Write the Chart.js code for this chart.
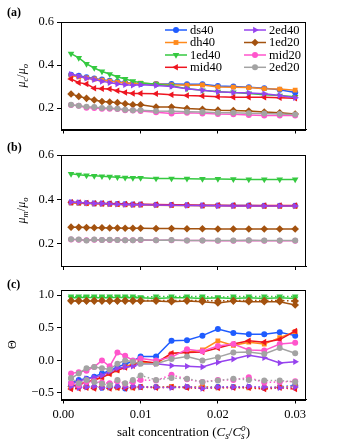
<!DOCTYPE html>
<html>
<head>
<meta charset="utf-8">
<script src="https://cdn.jsdelivr.net/npm/chart.js@4.4.1/dist/chart.umd.min.js"></script>
<style>
  body { margin: 0; background: #fff; }
  canvas { position: absolute; left: 0; }
</style>
</head>
<body>
<canvas id="chartA" width="341" height="140" style="top:0"></canvas>
<canvas id="chartB" width="341" height="137" style="top:140px"></canvas>
<canvas id="chartC" width="341" height="167" style="top:277px"></canvas>
<script>
// salt concentration values (C_s / C_s^o)
const saltConc = [0.001, 0.002, 0.003, 0.004, 0.005, 0.006, 0.007, 0.008, 0.009, 0.010,
                  0.012, 0.014, 0.016, 0.018, 0.020, 0.022, 0.024, 0.026, 0.028, 0.030];
const seriesNames = ["ds40", "dh40", "1ed40", "mid40", "2ed40", "1ed20", "mid20", "2ed20"];
const xTicks = [0, 0.01, 0.02, 0.03];
const yTicksAB = [0.2, 0.4, 0.6];
const yTicksC = [-0.5, 0, 0.5, 1.0];

// (a) mu_c / mu_o
const muC_ds40  = [0.355, 0.350, 0.343, 0.337, 0.332, 0.327, 0.322, 0.318, 0.314, 0.312, 0.312, 0.312, 0.311, 0.311, 0.302, 0.300, 0.297, 0.292, 0.285, 0.272];
const muC_dh40  = [0.350, 0.345, 0.340, 0.335, 0.330, 0.325, 0.320, 0.316, 0.314, 0.315, 0.312, 0.308, 0.306, 0.307, 0.298, 0.297, 0.295, 0.290, 0.288, 0.283];
const muC_1ed40 = [0.453, 0.433, 0.405, 0.386, 0.370, 0.358, 0.345, 0.335, 0.325, 0.317, 0.311, 0.304, 0.290, 0.282, 0.276, 0.272, 0.268, 0.262, 0.258, 0.252];
const muC_mid40 = [0.335, 0.318, 0.312, 0.292, 0.290, 0.288, 0.280, 0.272, 0.268, 0.268, 0.266, 0.262, 0.258, 0.256, 0.252, 0.250, 0.250, 0.250, 0.248, 0.245];
const muC_2ed40 = [0.357, 0.348, 0.338, 0.332, 0.324, 0.318, 0.312, 0.308, 0.306, 0.308, 0.305, 0.300, 0.290, 0.282, 0.276, 0.272, 0.270, 0.266, 0.258, 0.248];
const muC_1ed20 = [0.265, 0.254, 0.245, 0.237, 0.230, 0.228, 0.225, 0.220, 0.215, 0.215, 0.205, 0.205, 0.198, 0.194, 0.190, 0.188, 0.186, 0.181, 0.178, 0.172];
const muC_mid20 = [0.214, 0.210, 0.201, 0.200, 0.196, 0.196, 0.195, 0.190, 0.188, 0.186, 0.180, 0.175, 0.178, 0.175, 0.172, 0.171, 0.168, 0.165, 0.165, 0.165];
const muC_2ed20 = [0.215, 0.210, 0.206, 0.205, 0.200, 0.200, 0.196, 0.192, 0.190, 0.190, 0.186, 0.185, 0.183, 0.181, 0.178, 0.178, 0.176, 0.174, 0.172, 0.170];

// (b) mu_m / mu_o
const muM_ds40  = [0.386, 0.385, 0.383, 0.382, 0.381, 0.380, 0.379, 0.378, 0.377, 0.377, 0.376, 0.375, 0.374, 0.373, 0.373, 0.372, 0.372, 0.371, 0.371, 0.371];
const muM_dh40  = [0.384, 0.383, 0.381, 0.380, 0.379, 0.378, 0.377, 0.376, 0.375, 0.375, 0.374, 0.373, 0.372, 0.371, 0.371, 0.370, 0.370, 0.369, 0.369, 0.369];
const muM_1ed40 = [0.515, 0.511, 0.508, 0.506, 0.504, 0.502, 0.500, 0.498, 0.497, 0.497, 0.494, 0.494, 0.493, 0.492, 0.492, 0.491, 0.490, 0.490, 0.490, 0.490];
const muM_mid40 = [0.387, 0.386, 0.384, 0.383, 0.382, 0.381, 0.380, 0.379, 0.378, 0.378, 0.377, 0.376, 0.375, 0.374, 0.374, 0.373, 0.373, 0.372, 0.372, 0.372];
const muM_2ed40 = [0.387, 0.386, 0.384, 0.382, 0.381, 0.379, 0.378, 0.377, 0.376, 0.376, 0.375, 0.374, 0.373, 0.372, 0.371, 0.370, 0.370, 0.370, 0.370, 0.370];
const muM_1ed20 = [0.275, 0.274, 0.273, 0.272, 0.272, 0.271, 0.271, 0.270, 0.270, 0.270, 0.269, 0.269, 0.268, 0.268, 0.267, 0.267, 0.267, 0.267, 0.267, 0.267];
const muM_mid20 = [0.219, 0.218, 0.216, 0.218, 0.217, 0.217, 0.217, 0.216, 0.216, 0.217, 0.216, 0.216, 0.215, 0.215, 0.214, 0.214, 0.215, 0.214, 0.214, 0.214];
const muM_2ed20 = [0.220, 0.219, 0.215, 0.219, 0.217, 0.218, 0.217, 0.216, 0.216, 0.218, 0.216, 0.217, 0.215, 0.215, 0.215, 0.215, 0.216, 0.215, 0.215, 0.215];

// (c) Theta, solid lines
const theta_ds40  = [-0.35, -0.30, -0.28, -0.25, -0.20, -0.16, -0.10, -0.06, -0.01, 0.06, 0.06, 0.30, 0.31, 0.38, 0.48, 0.42, 0.40, 0.40, 0.43, 0.38];
const theta_dh40  = [-0.40, -0.36, -0.33, -0.30, -0.26, -0.20, -0.15, -0.10, -0.05, -0.03, -0.05, 0.10, 0.13, 0.16, 0.30, 0.23, 0.28, 0.25, 0.35, 0.44];
const theta_1ed40 = [0.96, 0.96, 0.97, 0.96, 0.96, 0.96, 0.97, 0.96, 0.96, 0.96, 0.95, 0.96, 0.96, 0.95, 0.96, 0.95, 0.96, 0.95, 0.96, 0.95];
const theta_mid40 = [-0.40, -0.37, -0.34, -0.30, -0.26, -0.21, -0.15, -0.11, -0.08, -0.01, -0.04, 0.11, 0.12, 0.13, 0.19, 0.25, 0.30, 0.28, 0.32, 0.45];
const theta_2ed40 = [-0.36, -0.32, -0.28, -0.26, -0.23, -0.17, -0.12, -0.10, -0.09, -0.05, -0.05, -0.08, -0.09, -0.10, -0.03, 0.02, 0.08, 0.04, -0.04, -0.02];
const theta_1ed20 = [0.91, 0.91, 0.91, 0.91, 0.91, 0.91, 0.91, 0.91, 0.91, 0.91, 0.91, 0.90, 0.91, 0.90, 0.88, 0.91, 0.90, 0.90, 0.90, 0.85];
const theta_mid20 = [-0.20, -0.18, -0.16, -0.10, 0.00, -0.09, 0.12, 0.07, 0.00, 0.03, 0.00, 0.05, 0.17, 0.14, 0.22, 0.25, 0.16, 0.15, 0.25, 0.27];
const theta_2ed20 = [-0.28, -0.20, -0.12, -0.10, -0.12, -0.14, -0.05, 0.00, -0.02, -0.05, -0.05, 0.02, 0.06, 0.00, 0.05, 0.12, 0.13, 0.10, 0.19, 0.11];

// (c) Theta, dotted lines
const thetaDot_ds40  = [-0.38, -0.40, -0.40, -0.41, -0.42, -0.40, -0.41, -0.43, -0.41, -0.41, -0.41, -0.41, -0.41, -0.41, -0.41, -0.41, -0.41, -0.42, -0.41, -0.38];
const thetaDot_dh40  = [-0.42, -0.40, -0.41, -0.42, -0.41, -0.42, -0.42, -0.41, -0.42, -0.41, -0.41, -0.40, -0.41, -0.40, -0.42, -0.41, -0.42, -0.42, -0.41, -0.40];
const thetaDot_1ed40 = [0.98, 0.98, 0.98, 0.98, 0.98, 0.98, 0.98, 0.98, 0.98, 0.97, 0.98, 0.98, 0.98, 0.98, 0.97, 0.98, 0.98, 0.98, 0.98, 0.98];
const thetaDot_mid40 = [-0.44, -0.43, -0.42, -0.43, -0.41, -0.43, -0.42, -0.43, -0.42, -0.41, -0.42, -0.41, -0.42, -0.43, -0.42, -0.42, -0.42, -0.44, -0.42, -0.44];
const thetaDot_2ed40 = [-0.40, -0.42, -0.41, -0.40, -0.42, -0.41, -0.40, -0.41, -0.40, -0.41, -0.41, -0.42, -0.40, -0.43, -0.41, -0.41, -0.40, -0.41, -0.42, -0.41];
const thetaDot_1ed20 = [0.92, 0.92, 0.92, 0.92, 0.92, 0.92, 0.92, 0.92, 0.92, 0.92, 0.92, 0.92, 0.92, 0.92, 0.91, 0.92, 0.92, 0.92, 0.92, 0.91];
const thetaDot_mid20 = [-0.35, -0.38, -0.33, -0.32, -0.34, -0.35, -0.32, -0.36, -0.33, -0.30, -0.31, -0.22, -0.29, -0.33, -0.30, -0.30, -0.26, -0.34, -0.33, -0.32];
const thetaDot_2ed20 = [-0.27, -0.35, -0.30, -0.33, -0.36, -0.38, -0.30, -0.35, -0.30, -0.23, -0.30, -0.27, -0.28, -0.33, -0.31, -0.28, -0.30, -0.31, -0.31, -0.33];

const colors = ["#1f5cff", "#ff8a1c", "#35c940", "#ee1520", "#9643ee", "#a3520f", "#ff55cc", "#a3a3a3"];
const markers = [
  { pointStyle: "circle", rotation: 0, radius: 3 },
  { pointStyle: "rect", rotation: 0, radius: 3.4 },
  { pointStyle: "triangle", rotation: 180, radius: 3.8 },
  { pointStyle: "triangle", rotation: -90, radius: 3.8 },
  { pointStyle: "triangle", rotation: 90, radius: 3.8 },
  { pointStyle: "rectRot", rotation: 0, radius: 3.8 },
  { pointStyle: "circle", rotation: 0, radius: 3 },
  { pointStyle: "circle", rotation: 0, radius: 3 },
];

const SERIF = "'Liberation Serif', 'DejaVu Serif', serif";

function makeSet(i, values, dotted) {
  const m = markers[i];
  return {
    label: seriesNames[i] + (dotted ? " (dot)" : ""),
    data: values.map((v, k) => ({ x: saltConc[k], y: v })),
    borderColor: colors[i],
    backgroundColor: colors[i],
    borderWidth: 1.5,
    borderDash: dotted ? [1.5, 2.5] : [],
    pointStyle: m.pointStyle,
    rotation: m.rotation,
    pointRadius: m.radius,
    pointBorderWidth: 0,
    tension: 0,
  };
}

// draw a short piece of math-ish text: parts with italic / sub / sup flags
function drawRich(ctx, parts, x, y, size, rotate) {
  const font = (p) => {
    const s = (p.sub || p.sup) ? size * 0.72 : size;
    return (p.it ? "italic " : "") + s + "px " + SERIF;
  };
  let total = 0, lastW = 0;
  parts.forEach(p => {
    ctx.font = font(p);
    const w = ctx.measureText(p.t).width;
    if (p.stack) { total += Math.max(0, w - lastW); } else { total += w; }
    lastW = w;
  });
  ctx.save();
  ctx.translate(x, y);
  if (rotate) ctx.rotate(-Math.PI / 2);
  ctx.fillStyle = "#000";
  ctx.textBaseline = "middle";
  ctx.textAlign = "left";
  let cx = -total / 2, prevX = 0, prevW = 0;
  parts.forEach(p => {
    ctx.font = font(p);
    const w = ctx.measureText(p.t).width;
    const dy = p.sub ? size * 0.28 : p.sup ? -size * 0.38 : 0;
    if (p.stack) {
      ctx.fillText(p.t, prevX, dy);
      cx = prevX + Math.max(w, prevW);
    } else {
      ctx.fillText(p.t, cx, dy);
      prevX = cx; prevW = w;
      cx += w;
    }
  });
  ctx.restore();
}

const decoPlugin = {
  id: "deco",
  afterDraw(chart, args, opts) {
    const ctx = chart.ctx;
    const a = chart.chartArea;
    ctx.save();
    ctx.strokeStyle = "#000";
    ctx.lineWidth = 1;
    ctx.strokeRect(Math.round(a.left) + 0.5, Math.round(a.top) + 0.5,
                   Math.round(a.right - a.left) - 1, Math.round(a.bottom - a.top));
    ctx.fillStyle = "#000";
    ctx.font = "bold 12px " + SERIF;
    ctx.textBaseline = "middle";
    ctx.fillText(opts.panel, 7, opts.panelY);
    ctx.restore();
    drawRich(ctx, opts.ylabel, opts.ylabelX, (a.top + a.bottom) / 2, 12, true);
    if (opts.xlabel) drawRich(ctx, opts.xlabel, (a.left + a.right) / 2, opts.xlabelY, 13, false);
    if (opts.legend) {
      const rows = [30, 42.5, 55, 67.3];
      const cols = [{ x0: 165, x1: 187 }, { x0: 244, x1: 266 }];
      seriesNames.forEach((name, i) => {
        const col = cols[Math.floor(i / 4)];
        const y = rows[i % 4];
        ctx.save();
        ctx.strokeStyle = colors[i];
        ctx.fillStyle = colors[i];
        ctx.lineWidth = 1.5;
        ctx.beginPath();
        ctx.moveTo(col.x0, y);
        ctx.lineTo(col.x1, y);
        ctx.stroke();
        Chart.helpers.drawPoint(ctx, { pointStyle: markers[i].pointStyle, rotation: markers[i].rotation,
                                       radius: markers[i].radius, borderWidth: 0 }, (col.x0 + col.x1) / 2, y);
        ctx.fillStyle = "#000";
        ctx.font = "12.5px " + SERIF;
        ctx.textBaseline = "middle";
        ctx.fillText(name, col.x1 + 3, y + 0.5);
        ctx.restore();
      });
    }
  }
};

function makePanel(id, datasets, cfg) {
  const canvas = document.getElementById(id);
  const n = datasets.length;
  datasets.forEach((d, i) => { d.order = n - i; });
  return new Chart(canvas, {
    type: "line",
    data: { datasets: datasets },
    plugins: [decoPlugin],
    options: {
      responsive: false,
      animation: false,
      layout: { padding: { top: cfg.top, right: 35, left: 0, bottom: 0 } },
      plugins: {
        legend: { display: false },
        tooltip: { enabled: false },
        deco: cfg.deco,
      },
      scales: {
        x: {
          type: "linear",
          min: -0.0003,
          max: 0.0314,
          afterBuildTicks: (s) => { s.ticks = xTicks.map(v => ({ value: v })); },
          afterFit: (s) => { s.height = cfg.xHeight; },
          grid: { drawOnChartArea: false, tickLength: 4, color: "#000", tickWidth: 1 },
          border: { color: "#000", width: 1 },
          ticks: {
            display: cfg.xLabels,
            color: "#000",
            padding: 4,
            maxRotation: 0,
            font: { family: SERIF, size: 12.5 },
            callback: (v) => v.toFixed(2),
          },
        },
        y: {
          min: cfg.yMin,
          max: cfg.yMax,
          afterBuildTicks: (s) => { s.ticks = cfg.yTicks.map(v => ({ value: v })); },
          afterFit: (s) => { s.width = 61; },
          grid: { drawOnChartArea: false, tickLength: 4, color: "#000", tickWidth: 1 },
          border: { color: "#000", width: 1 },
          ticks: {
            color: "#000",
            padding: 3,
            font: { family: SERIF, size: 12.5 },
            callback: (v) => (v < 0 ? "\u2212" : "") + Math.abs(v).toFixed(1),
          },
        },
      },
    },
  });
}

const muCSeries = [muC_ds40, muC_dh40, muC_1ed40, muC_mid40, muC_2ed40, muC_1ed20, muC_mid20, muC_2ed20];
const muMSeries = [muM_ds40, muM_dh40, muM_1ed40, muM_mid40, muM_2ed40, muM_1ed20, muM_mid20, muM_2ed20];
const thetaSeries = [theta_ds40, theta_dh40, theta_1ed40, theta_mid40, theta_2ed40, theta_1ed20, theta_mid20, theta_2ed20];
const thetaDotSeries = [thetaDot_ds40, thetaDot_dh40, thetaDot_1ed40, thetaDot_mid40, thetaDot_2ed40, thetaDot_1ed20, thetaDot_mid20, thetaDot_2ed20];

makePanel("chartA", muCSeries.map((v, i) => makeSet(i, v, false)), {
  top: 22, xHeight: 7, xLabels: false, yMin: 0.1, yMax: 0.6, yTicks: yTicksAB,
  deco: {
    panel: "(a)", panelY: 13, ylabelX: 22, legend: true,
    ylabel: [{ t: "\u03bc", it: true }, { t: "c", it: true, sub: true }, { t: "/" }, { t: "\u03bc", it: true }, { t: "o", it: true, sub: true }],
  },
});

makePanel("chartB", muMSeries.map((v, i) => makeSet(i, v, false)), {
  top: 15, xHeight: 11, xLabels: false, yMin: 0.1, yMax: 0.6, yTicks: yTicksAB,
  deco: {
    panel: "(b)", panelY: 8, ylabelX: 22,
    ylabel: [{ t: "\u03bc", it: true }, { t: "m", it: true, sub: true }, { t: "/" }, { t: "\u03bc", it: true }, { t: "o", it: true, sub: true }],
  },
});

const thetaSets = [];
thetaSeries.forEach((v, i) => thetaSets.push(makeSet(i, v, false)));
thetaDotSeries.forEach((v, i) => thetaSets.push(makeSet(i, v, true)));

makePanel("chartC", thetaSets, {
  top: 13, xHeight: 44.5, xLabels: true, yMin: -0.6, yMax: 1.08, yTicks: yTicksC,
  deco: {
    panel: "(c)", panelY: 8, ylabelX: 13, xlabelY: 156,
    ylabel: [{ t: "\u0398" }],
    xlabel: [{ t: "salt concentration (" }, { t: "C", it: true }, { t: "s", it: true, sub: true }, { t: "/" },
             { t: "C", it: true }, { t: "s", it: true, sub: true }, { t: "o", it: true, sup: true, stack: true }, { t: ")" }],
  },
});
</script>
</body>
</html>
